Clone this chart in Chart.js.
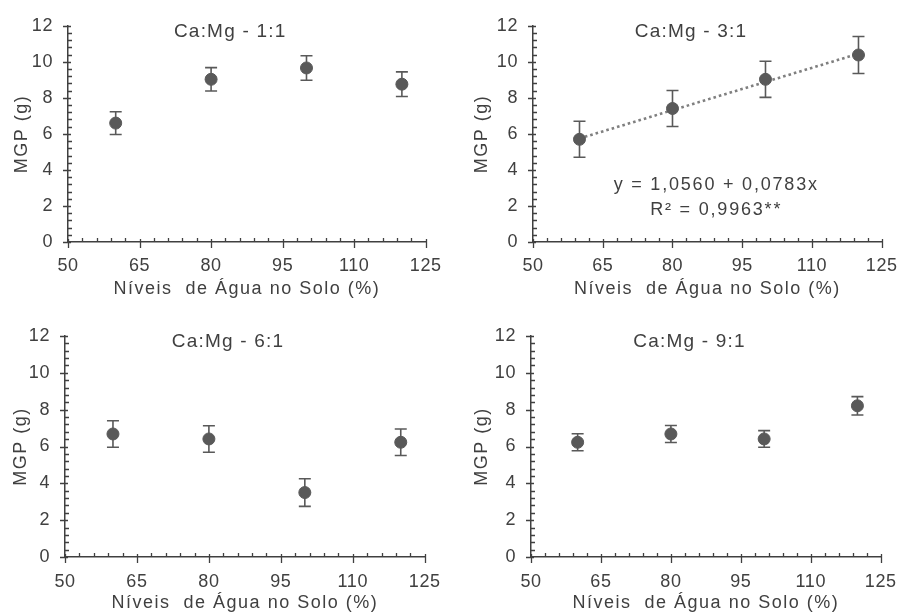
<!DOCTYPE html>
<html>
<head>
<meta charset="utf-8">
<title>MGP x Níveis de Água no Solo</title>
<script src="https://cdn.jsdelivr.net/npm/chart.js"></script>
<style>
  body { margin: 0; background: #fff; }
  #wrap { position: relative; width: 913px; height: 616px; }
  canvas { position: absolute; }
</style>
</head>
<body>
<div id="wrap">
  <canvas id="g11" width="456" height="308" style="left:0;top:0"></canvas>
  <canvas id="g31" width="456" height="308" style="left:456px;top:0"></canvas>
  <canvas id="g61" width="456" height="308" style="left:0;top:308px"></canvas>
  <canvas id="g91" width="456" height="308" style="left:456px;top:308px"></canvas>
</div>
<script>
    // niveis de agua no solo (%)
    const niveis = [60, 80, 100, 120];

    // MGP (g) e desvio de cada relacao Ca:Mg
    const mgp11 = [6.6, 9.03, 9.66, 8.76];
    const erro11 = [0.63, 0.65, 0.68, 0.68];

    const mgp31 = [5.7, 7.41, 9.03, 10.38];
    const erro31 = [1.0, 1.0, 1.0, 1.03];

    const mgp61 = [6.68, 6.41, 3.5, 6.23];
    const erro61 = [0.72, 0.72, 0.75, 0.72];

    const mgp91 = [6.23, 6.68, 6.41, 8.21];
    const erro91 = [0.46, 0.46, 0.45, 0.5];

    // reta ajustada do 3:1 (extremos)
    const retaX = [60, 120];
    const retaY = [5.75, 10.45];

    const ticksX = [50, 65, 80, 95, 110, 125];
    const ticksY = [0, 2, 4, 6, 8, 10, 12];

    const fonte = '"Liberation Sans", Arial, sans-serif';
    const corTexto = '#404040';
    const corEixo = '#404040';
    const corPonto = '#595959';

    // espacamento entre letras: titulos dos eixos / numeros dos eixos
    const espacoTitulo = '1.5px';
    const espacoNumeros = '0.6px';

    const decoracao = {
        id: 'decoracao',
        beforeLayout(chart) { chart.ctx.letterSpacing = espacoTitulo; },
        beforeDraw(chart) { chart.ctx.letterSpacing = espacoTitulo; },
        beforeDatasetsDraw(chart, args, opts) {
            const ctx = chart.ctx;
            ctx.letterSpacing = espacoNumeros; // os numeros (z = 1) saem depois dos pontos
            const x = chart.scales.x, y = chart.scales.y;
            const pontos = chart.data.datasets[0].data;
            ctx.save();
            ctx.strokeStyle = corPonto;
            ctx.lineWidth = 1.6;
            pontos.forEach(function (p, i) {
                const px = x.getPixelForValue(p.x);
                const y1 = y.getPixelForValue(p.y + opts.erros[i]);
                const y2 = y.getPixelForValue(p.y - opts.erros[i]);
                ctx.beginPath();
                ctx.moveTo(px, y1); ctx.lineTo(px, y2);
                ctx.moveTo(px - 6, y1); ctx.lineTo(px + 6, y1);
                ctx.moveTo(px - 6, y2); ctx.lineTo(px + 6, y2);
                ctx.stroke();
            });
            ctx.restore();
        },
        afterDraw(chart, args, opts) {
            const ctx = chart.ctx;
            const x = chart.scales.x, y = chart.scales.y;
            const base = Math.round(y.bottom);
            const esq = Math.round(x.left);
            ctx.save();
            ctx.strokeStyle = corEixo;
            ctx.lineWidth = 1.3;
            ctx.beginPath();
            // marcas do eixo x, secundarias a cada 3
            for (let v = x.min; v <= x.max; v += 3) {
                const px = Math.round(x.getPixelForValue(v)) + 0.5;
                if ((v - x.min) % 15 === 0) {
                    ctx.moveTo(px, base - 3); ctx.lineTo(px, base + 6);
                } else {
                    ctx.moveTo(px, base - 4); ctx.lineTo(px, base);
                }
            }
            // marcas do eixo y, secundarias a cada 0,4
            for (let k = 0; k <= 30; k++) {
                const py = Math.round(y.getPixelForValue(k * 0.4)) + 0.5;
                if (k % 5 === 0) {
                    ctx.moveTo(esq - 5, py); ctx.lineTo(esq + 3, py);
                } else {
                    ctx.moveTo(esq, py); ctx.lineTo(esq + 4, py);
                }
            }
            ctx.stroke();

            ctx.fillStyle = corTexto;
            ctx.textAlign = 'center';
            ctx.textBaseline = 'middle';
            ctx.letterSpacing = '1.2px';
            ctx.font = '19px ' + fonte;
            ctx.fillText(opts.titulo, x.getPixelForValue(84), chart.chartArea.top + 6);

            if (opts.equacao) {
                ctx.letterSpacing = '1.8px';
                ctx.font = '18px ' + fonte;
                ctx.fillText(opts.equacao[0], x.getPixelForValue(89.4), y.getPixelForValue(3.17));
                ctx.fillText(opts.equacao[1], x.getPixelForValue(89.4), y.getPixelForValue(1.77));
            }
            ctx.restore();
        }
    };

    function criarPainel(id, titulo, valores, erros, caixa, equacao) {
        const pontos = niveis.map(function (n, i) { return {x: n, y: valores[i]}; });
        const conjuntos = [{
            label: titulo,
            data: pontos,
            backgroundColor: corPonto,
            borderColor: corPonto,
            pointRadius: 6,
            pointHoverRadius: 6,
            showLine: false,
            order: 1
        }];
        if (equacao) {
            conjuntos.push({
                type: 'line',
                label: 'ajuste',
                data: retaX.map(function (v, i) { return {x: v, y: retaY[i]}; }),
                borderColor: '#7f7f7f',
                borderWidth: 2.6,
                borderDash: [2.6, 3],
                pointRadius: 0,
                fill: false,
                order: 2
            });
        }

        new Chart(document.getElementById(id), {
            type: 'scatter',
            data: { datasets: conjuntos },
            plugins: [decoracao],
            options: {
                responsive: false,
                animation: false,
                layout: {
                    padding: { left: 0, top: caixa.top, right: 456 - caixa.right, bottom: 0 }
                },
                plugins: {
                    legend: { display: false },
                    tooltip: { enabled: false },
                    decoracao: { titulo: titulo, erros: erros, equacao: equacao }
                },
                scales: {
                    x: {
                        type: 'linear',
                        min: 50,
                        max: 125,
                        afterBuildTicks: function (s) { s.ticks = ticksX.map(function (v) { return {value: v}; }); },
                        afterFit: function (s) { s.height = 308 - caixa.bottom; },
                        grid: { drawOnChartArea: false, drawTicks: false, color: 'rgba(0,0,0,0)' },
                        border: { display: true, color: corEixo, width: 1.5 },
                        ticks: { z: 1, color: corTexto, padding: caixa.padX, font: { family: fonte, size: 18 } },
                        title: {
                            display: true,
                            text: 'Níveis  de Água no Solo (%)',
                            color: corTexto,
                            font: { family: fonte, size: 18 },
                            padding: { top: 0, bottom: caixa.tituloX }
                        }
                    },
                    y: {
                        type: 'linear',
                        min: 0,
                        max: 12,
                        afterBuildTicks: function (s) { s.ticks = ticksY.map(function (v) { return {value: v}; }); },
                        afterFit: function (s) { s.width = caixa.left; },
                        grid: { drawOnChartArea: false, drawTicks: false, color: 'rgba(0,0,0,0)' },
                        border: { display: true, color: corEixo, width: 1.5 },
                        ticks: { z: 1, color: corTexto, padding: 15, font: { family: fonte, size: 18 } },
                        title: {
                            display: true,
                            text: 'MGP (g)',
                            color: corTexto,
                            font: { family: fonte, size: 18 },
                            padding: { top: caixa.tituloY, bottom: 0 }
                        }
                    }
                }
            }
        });
    }

    criarPainel('g11', 'Ca:Mg - 1:1', mgp11, erro11,
        { left: 68, right: 433, top: 20, bottom: 242, padX: 13, tituloX: 8, tituloY: 11 });
    criarPainel('g31', 'Ca:Mg - 3:1', mgp31, erro31,
        { left: 77, right: 437, top: 20, bottom: 242, padX: 13, tituloX: 8, tituloY: 15 },
        ['y = 1,0560 + 0,0783x', 'R² = 0,9963**']);
    criarPainel('g61', 'Ca:Mg - 6:1', mgp61, erro61,
        { left: 65, right: 432, top: 28, bottom: 249, padX: 14, tituloX: 2, tituloY: 10 });
    criarPainel('g91', 'Ca:Mg - 9:1', mgp91, erro91,
        { left: 75, right: 436, top: 28, bottom: 249, padX: 14, tituloX: 2, tituloY: 15 });
</script>
</body>
</html>
